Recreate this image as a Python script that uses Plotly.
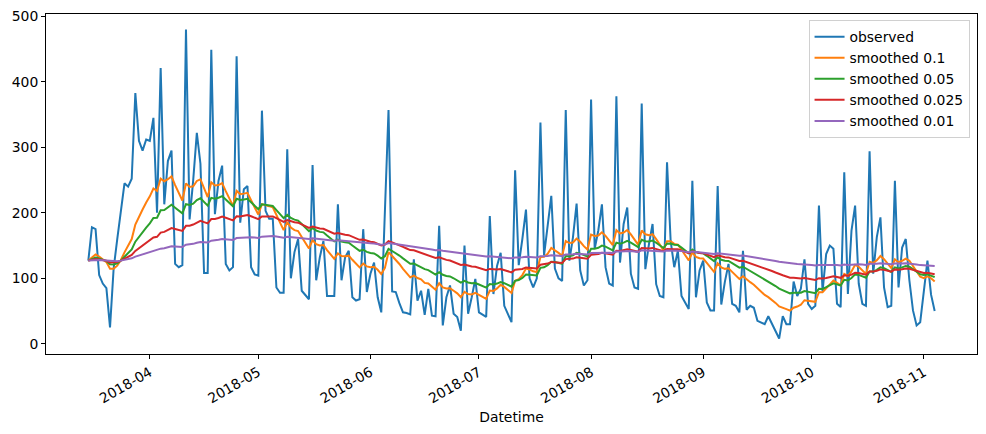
import pandas as pd
import plotly.graph_objects as go

start_date = "2018-03-15"
observed = [
    127, 178, 175, 105, 92, 85, 25, 115, 160, 205, 245, 240, 252, 383, 310, 295, 312, 310, 345, 200,
    421, 213, 279, 295, 122, 117, 120, 480, 190, 250, 322, 275, 108, 108, 449, 198, 249, 272, 122, 112,
    117, 439, 185, 236, 241, 117, 106, 104, 356, 203, 191, 191, 86, 78, 78, 297, 100, 140, 160, 81,
    74, 68, 273, 97, 132, 157, 73, 73, 73, 213, 97, 132, 142, 71, 66, 68, 175, 79, 107, 124,
    71, 48, 200, 357, 80, 79, 62, 48, 47, 45, 129, 66, 81, 44, 84, 43, 42, 180, 28, 71,
    89, 46, 41, 20, 150, 46, 71, 99, 48, 44, 41, 195, 76, 119, 139, 58, 45, 33, 265, 120,
    160, 205, 100, 86, 100, 338, 135, 180, 226, 115, 100, 96, 357, 127, 163, 214, 112, 89, 97, 373,
    145, 173, 213, 117, 92, 89, 378, 124, 183, 208, 107, 86, 84, 367, 114, 152, 183, 91, 73, 71,
    277, 157, 117, 142, 73, 63, 53, 249, 71, 112, 127, 63, 51, 51, 241, 60, 95, 122, 61, 58,
    48, 142, 52, 58, 55, 35, 33, 30, 42, 30, 20, 8, 42, 30, 30, 95, 73, 84, 129, 61,
    53, 58, 211, 80, 137, 150, 145, 61, 56, 262, 76, 173, 211, 92, 61, 58, 294, 107, 163, 193,
    86, 56, 58, 249, 86, 147, 160, 97, 51, 28, 33, 81, 127, 75, 50,
]
alphas = [0.1, 0.05, 0.025, 0.01]
series_names = ["observed", "smoothed 0.1", "smoothed 0.05", "smoothed 0.025", "smoothed 0.01"]
colors = ["#1f77b4", "#ff7f0e", "#2ca02c", "#d62728", "#9467bd"]
tick_dates = ["2018-04-01", "2018-05-01", "2018-06-01", "2018-07-01",
              "2018-08-01", "2018-09-01", "2018-10-01", "2018-11-01"]
tick_labels = ["2018-04", "2018-05", "2018-06", "2018-07",
               "2018-08", "2018-09", "2018-10", "2018-11"]
y_ticks = [0, 100, 200, 300, 400, 500]

dates = pd.date_range(start_date, periods=len(observed), freq="D")
obs = pd.Series(observed, index=dates, dtype=float)
all_series = [obs] + [obs.ewm(alpha=a, adjust=False).mean() for a in alphas]

fig = go.Figure()
for name, s, c in zip(series_names, all_series, colors):
    fig.add_trace(go.Scatter(x=s.index, y=s.values, mode="lines", name=name,
                             line=dict(color=c, width=2)))

span = dates[-1] - dates[0]
pad = span * 0.05
ymin, ymax = min(observed), max(observed)
ypad = (ymax - ymin) * 0.05

font = dict(family="DejaVu Sans", size=13.9, color="black")
fig.update_layout(
    width=986, height=434,
    margin=dict(l=46, r=9, t=14, b=80),
    plot_bgcolor="white", paper_bgcolor="white",
    font=font,
    showlegend=True,
    legend=dict(x=0.992, y=0.982, xanchor="right", yanchor="top",
                bgcolor="rgba(255,255,255,0.8)", bordercolor="#d0d0d0", borderwidth=1,
                font=font, tracegroupgap=0, itemwidth=30),
    xaxis=dict(
        range=[dates[0] - pad, dates[-1] + pad],
        tickvals=pd.to_datetime(tick_dates), ticktext=tick_labels, tickangle=-30,
        showline=True, linecolor="black", linewidth=1, mirror=True,
        ticks="outside", ticklen=4, tickwidth=1, tickcolor="black",
        showgrid=False, zeroline=False,
        title=dict(text="Datetime", font=font, standoff=6),
        automargin=False,
    ),
    yaxis=dict(
        range=[ymin - ypad, ymax + ypad],
        tickvals=y_ticks,
        showline=True, linecolor="black", linewidth=1, mirror=True,
        ticks="outside", ticklen=4, tickwidth=1, tickcolor="black",
        showgrid=False, zeroline=False, automargin=False,
    ),
)
fig.write_html("out.html")
